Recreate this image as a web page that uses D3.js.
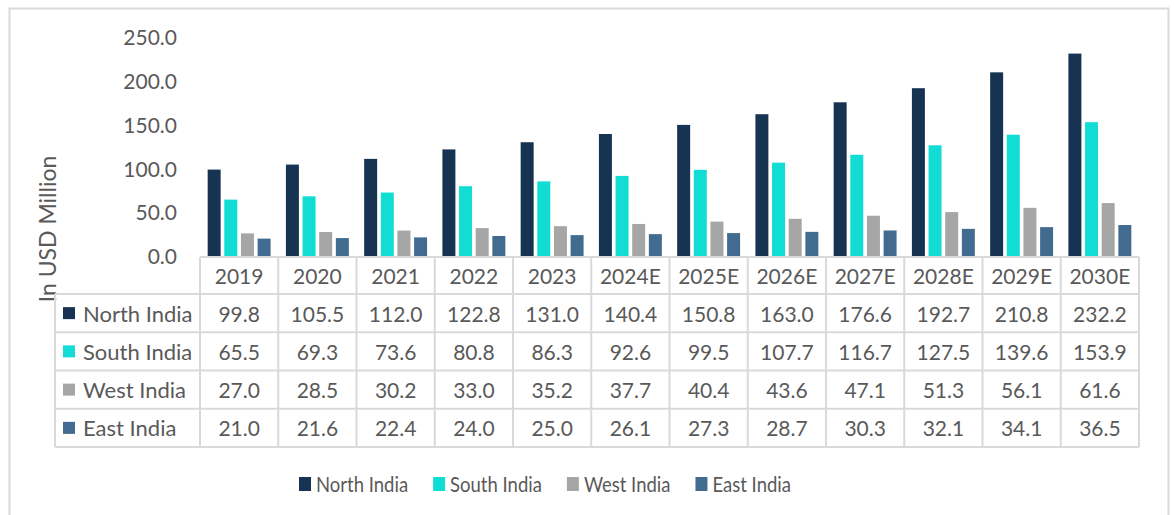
<!DOCTYPE html>
<html>
<head>
<meta charset="utf-8">
<script src="https://cdn.jsdelivr.net/npm/d3@7"></script>
<style>
  body { margin: 0; background: #fff; }
  text { font-family: Lato, "Open Sans", sans-serif; fill: #595959; }
</style>
</head>
<body>
<script>
// Regional market size, in USD million

var years = ['2019', '2020', '2021', '2022', '2023', '2024E', '2025E', '2026E', '2027E', '2028E', '2029E', '2030E'];
var regions = ['North India', 'South India', 'West India', 'East India'];
var northIndia = [99.8, 105.5, 112.0, 122.8, 131.0, 140.4, 150.8, 163.0, 176.6, 192.7, 210.8, 232.2];
var southIndia = [65.5, 69.3, 73.6, 80.8, 86.3, 92.6, 99.5, 107.7, 116.7, 127.5, 139.6, 153.9];
var westIndia = [27.0, 28.5, 30.2, 33.0, 35.2, 37.7, 40.4, 43.6, 47.1, 51.3, 56.1, 61.6];
var eastIndia = [21.0, 21.6, 22.4, 24.0, 25.0, 26.1, 27.3, 28.7, 30.3, 32.1, 34.1, 36.5];
var yTicks = [0, 50, 100, 150, 200, 250];
var regionColors = ['#163351', '#12ddd4', '#a6a6a6', '#416c90'];

var width = 1174,
    height = 515,
    gridColor = '#d9d9d9',
    fmt = d3.format('.1f');

var values = [northIndia, southIndia, westIndia, eastIndia];

var svg = d3.select('body').append('svg')
    .attr('width', width)
    .attr('height', height);

// chart border
svg.append('rect')
    .attr('x', 9.5)
    .attr('y', 8.5)
    .attr('width', 1159)
    .attr('height', 512)
    .attr('fill', 'none')
    .attr('stroke', gridColor)
    .attr('stroke-width', 2);

var x = d3.scaleBand()
    .domain(years)
    .range([200, 1139]);

var inner = d3.scaleBand()
    .domain(regions)
    .range([0, x.bandwidth()])
    .paddingInner(0.22)
    .paddingOuter(0.46);

var y = d3.scaleLinear()
    .domain([0, 250])
    .range([257, 38]);

var rowY = d3.scaleBand()
    .domain(regions)
    .range([294, 447]);

// y axis labels only, no line
var yAxis = svg.append('g')
    .attr('transform', 'translate(177,0)')
    .call(d3.axisLeft(y).tickValues(yTicks).tickFormat(fmt).tickSize(0).tickPadding(0));
yAxis.select('.domain').remove();
yAxis.selectAll('text')
    .attr('fill', '#595959')
    .style('font-family', 'Lato, "Open Sans", sans-serif')
    .style('font-size', '21px');

svg.append('text')
    .attr('transform', 'translate(47,229) rotate(-90)')
    .attr('text-anchor', 'middle')
    .attr('dominant-baseline', 'central')
    .style('font-size', '23px')
    .text('In USD Million');

// bars
var groups = svg.append('g').selectAll('g')
    .data(years)
    .enter()
    .append('g')
    .attr('transform', function(d) { return 'translate(' + x(d) + ',0)'; });

groups.selectAll('rect')
    .data(function(d, i) {
        return regions.map(function(r, k) { return {region: r, value: values[k][i], color: regionColors[k]}; });
    })
    .enter()
    .append('rect')
    .attr('x', function(d) { return inner(d.region); })
    .attr('width', inner.bandwidth())
    .attr('y', function(d) { return y(d.value); })
    .attr('height', function(d) { return y(0) - y(d.value); })
    .attr('fill', function(d) { return d.color; });

// data table
var grid = svg.append('g')
    .attr('stroke', gridColor)
    .attr('stroke-width', 2);

grid.append('line')
    .attr('x1', x.range()[0]).attr('x2', x.range()[1])
    .attr('y1', y(0)).attr('y2', y(0));

regions.forEach(function(r) {
    grid.append('line')
        .attr('x1', 55).attr('x2', x.range()[1])
        .attr('y1', rowY(r)).attr('y2', rowY(r));
});
grid.append('line')
    .attr('x1', 55).attr('x2', x.range()[1])
    .attr('y1', rowY.range()[1]).attr('y2', rowY.range()[1]);

years.concat(['end']).forEach(function(yr, i) {
    var xx = x.range()[0] + i * x.bandwidth();
    grid.append('line')
        .attr('x1', xx).attr('x2', xx)
        .attr('y1', y(0)).attr('y2', rowY.range()[1]);
});
grid.append('line')
    .attr('x1', 55).attr('x2', 55)
    .attr('y1', rowY.range()[0]).attr('y2', rowY.range()[1]);

svg.append('g').selectAll('text')
    .data(years)
    .enter()
    .append('text')
    .attr('x', function(d) { return x(d) + x.bandwidth() / 2; })
    .attr('y', (y(0) + rowY.range()[0]) / 2)
    .attr('text-anchor', 'middle')
    .attr('dominant-baseline', 'central')
    .style('font-size', '21px')
    .text(function(d) { return d; });

regions.forEach(function(r, k) {
    var row = svg.append('g');
    row.append('rect')
        .attr('x', 63)
        .attr('y', rowY(r) + rowY.bandwidth() / 2 - 6)
        .attr('width', 12)
        .attr('height', 12)
        .attr('fill', regionColors[k]);
    row.append('text')
        .attr('x', 83)
        .attr('y', rowY(r) + rowY.bandwidth() / 2)
        .attr('dominant-baseline', 'central')
        .style('font-size', '22px')
        .text(r);
    row.selectAll('.val')
        .data(values[k])
        .enter()
        .append('text')
        .classed('val', true)
        .attr('x', function(d, i) { return x(years[i]) + x.bandwidth() / 2; })
        .attr('y', rowY(r) + rowY.bandwidth() / 2)
        .attr('text-anchor', 'middle')
        .attr('dominant-baseline', 'central')
        .style('font-size', '21px')
        .text(fmt);
});

// legend (slightly taller glyphs, as in the original)
var legend = svg.append('g');
var lx = 299;
regions.forEach(function(r, k) {
    legend.append('rect')
        .attr('x', lx)
        .attr('y', 477)
        .attr('width', 12)
        .attr('height', 14)
        .attr('fill', regionColors[k]);
    var t = legend.append('text')
        .attr('transform', 'translate(' + (lx + 17) + ',483) scale(1,1.14)')
        .attr('dominant-baseline', 'central')
        .style('font-size', '18.5px')
        .text(r);
    lx += 17 + t.node().getComputedTextLength() + 25;
});
</script>
</body>
</html>
